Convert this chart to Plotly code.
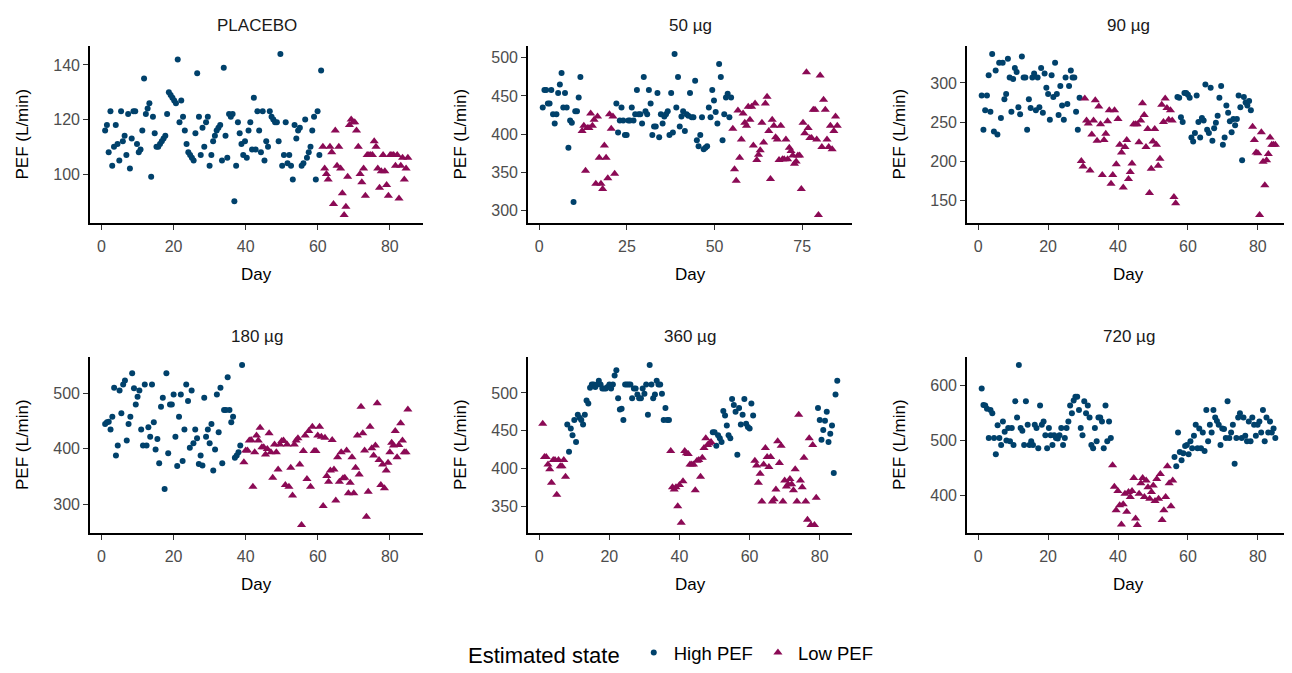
import numpy as np
import plotly.graph_objects as go

# ---------------- data (PEF, L/min, twice-daily readings in time order) ----------------
panel_titles = ["PLACEBO", "50 µg", "90 µg", "180 µg", "360 µg", "720 µg"]
state_names = ["High PEF", "Low PEF"]

placebo_high = [116, 118, 108, 123, 103, 110, 118, 111, 105, 123,
                112, 114, 107, 122, 102, 113, 123, 123, 111, 108,
                109, 116, 135, 122, 124, 126, 99, 121, 115, 110,
                110, 111, 112, 113, 114, 122, 130, 129, 128, 127,
                126, 142, 119, 127, 121, 116, 111, 108, 107, 106,
                105, 115, 137, 121, 107, 117, 110, 119, 121, 103,
                107, 112, 114, 116, 117, 118, 105, 139, 114, 106,
                122, 121, 122, 90, 103, 119, 115, 111, 107, 112,
                106, 116, 119, 109,
                128, 109, 123, 116, 108, 123, 105, 112, 110, 123,
                121, 120, 119, 119, 112, 144, 103, 107, 119, 104,
                107, 103, 98, 118, 113, 116, 117, 103, 104, 120,
                106, 108, 110, 116, 121, 98, 123, 107, 138]
placebo_low = [110, 102, 100, 98, 110, 108, 89, 116, 103, 110,
               102, 93, 85, 88, 99, 118, 120, 119, 119, 116,
               110, 100, 97, 102, 92, 107, 107, 107, 107, 112,
               110, 102, 95, 101, 107, 101, 96, 92, 107, 107,
               107, 103, 107, 91, 103, 106, 98, 102, 106]

d50_high_1 = [435, 458, 458, 440, 440, 458, 426, 414, 426, 454, 465, 480, 435, 454,
              435, 382, 418, 415, 311, 430, 430, 448, 475]
d50_low_1 = [404, 411, 352, 408, 408, 427, 411, 419, 335, 423, 369, 335, 328, 385,
             369, 342, 426, 407, 423, 348]
d50_high_2 = [440, 402, 418, 435, 418, 399, 399, 418, 418, 435, 418, 426, 458, 426,
              426, 414, 475, 430, 426, 458, 440, 399, 410, 410, 454, 396, 426, 414,
              423, 426, 430, 399, 454, 402, 505, 435, 475, 410, 423, 430, 404,
              426, 424, 454, 422, 422, 470, 392, 384, 399, 422, 380, 382, 384, 435,
              422, 458, 444, 429, 414, 492, 475, 392, 426, 448, 453, 422, 448]
d50_low_2 = [407, 354, 339, 431, 369, 393, 427, 415, 411, 436, 419, 436, 385, 440,
             366, 373, 379, 415, 389, 440, 449, 404, 341, 419, 411, 396, 393, 366,
             411, 367, 367, 393, 367, 382, 378, 372, 361, 364, 372, 372, 328, 415,
             401, 481, 408, 395, 395, 432, 432, 393, 294, 477, 383, 445, 432, 393,
             383, 411, 380, 404, 423, 411]

d90_high_1 = [284, 240, 265, 284, 310, 263, 337, 238, 316, 234, 326, 255, 326, 279,
              286, 331, 307, 263, 305, 319, 314, 269, 260, 334, 307, 307, 240, 279,
              268, 307, 312, 265, 307, 269, 319, 262, 312, 294, 286, 253, 310, 282,
              326, 286, 259, 296, 271, 253, 307, 273, 296, 316, 307, 307, 263, 240, 281]
d90_low_1 = [200, 193, 280, 252, 248, 188, 234, 252, 278, 226, 270, 247, 182, 227,
             235, 251, 265, 171, 182, 265, 196, 254, 221,
             211, 166, 218, 227, 177, 186, 197, 247, 247, 247, 224, 252, 274, 259,
             218, 241, 159, 190, 225, 241, 221, 194, 203, 272, 250, 280, 268, 253,
             265, 252, 154, 146]
d90_high_2 = [282, 281, 256, 250, 287, 287, 285, 281, 230, 225, 236, 284, 250, 230,
              255, 252, 298, 240, 236, 294, 226, 242, 249, 258, 281, 296, 221, 230,
              271, 262, 251, 237, 254, 246, 254, 284, 269, 201, 282, 275, 271, 277, 265]
d90_low_2 = [244, 227, 211, 210, 131, 237, 199, 169, 201, 209, 230, 221, 221, 221]

d180_high = [445, 448, 449, 435, 458, 510, 388, 406, 505, 464, 516, 523, 415, 445,
             458, 536, 509, 480, 494, 505, 435, 406, 516, 406, 439, 422, 516, 448,
             399, 418, 374, 476, 492, 328, 536, 392, 480, 480, 498, 422, 369, 458,
             498, 378, 435, 516, 486, 402, 505, 410, 435, 419, 373, 388, 370, 492,
             422, 435, 410, 445, 361, 399, 498, 430, 510, 374, 470, 470, 529, 470,
             448, 458, 384, 388, 394, 406, 551]
d180_low = [376, 397, 397, 415, 416, 332, 394, 424,
            415, 438, 403, 403, 390, 400, 428, 394, 348, 408, 394, 363, 408, 414,
            415, 335, 408, 332, 366, 316, 408, 415, 419, 372, 263, 396, 424, 346,
            432, 332, 440, 396, 396, 424, 440, 422, 297, 420, 351, 341, 361, 416,
            363, 307, 385, 341, 394, 347, 348, 397, 320, 339, 385, 320, 366, 424,
            354, 476, 428, 397, 278, 323, 440, 401, 388, 406, 482, 380, 335, 372,
            329, 361, 375, 394, 411, 406, 432, 385, 407, 446, 415, 394, 394, 471]

d360_low_1 = [459, 415, 415, 405, 399, 381, 411, 411, 365, 411, 403, 403, 411, 389]
d360_high_1 = [458, 422, 453, 444, 464, 435, 471, 467, 464, 458, 471, 490, 486, 507,
               511, 511, 508, 511, 516, 511, 506, 506, 506, 508, 511, 506, 511, 523,
               530, 493, 478, 479, 464, 511, 511, 511, 511, 493, 506, 506, 498, 493,
               493, 506, 499, 511, 471, 537, 511, 493, 498, 516, 511, 511, 499, 464,
               480, 464, 464]
d360_low_2 = [423, 375, 372, 375, 350, 378, 328, 383, 423, 420, 419, 405, 405, 405,
              371, 410, 411, 389, 414, 427, 440, 431, 433, 435]
d360_high_2 = [448, 448, 430, 444, 440, 435, 476, 470, 457, 444, 440, 492, 484, 475,
               418, 480, 458, 471, 492, 459, 455, 453, 486, 470]
d360_low_3 = [410, 404, 381, 393, 356, 405, 427, 415, 402, 415, 356, 359, 372, 436,
              407, 430, 356, 384, 376, 379, 386, 379, 371, 399, 356, 471, 384, 375,
              414, 356, 332, 440, 325, 431, 325, 361]
d360_high_3 = [480, 464, 438, 451, 463, 475, 435, 446, 457, 394, 498, 516]

d720_high_1 = [595, 565, 564, 558, 505, 556, 550, 505, 475, 528, 505, 492, 535, 516,
               500, 523, 499, 523, 492, 572, 542, 638, 523, 518, 492, 572, 529, 492,
               499, 492, 529, 523, 486, 564, 529, 535, 510, 486, 523, 510, 492, 510,
               505, 504, 510, 523, 492, 505, 523, 535, 564, 550, 573, 580, 580, 556,
               523, 510, 572, 550, 564, 542, 492, 486, 523, 499, 542, 542, 535, 486,
               564, 499, 535, 505]
d720_low = [455, 416, 373, 408, 382, 347, 384, 403, 370, 406, 397, 408, 432, 358,
            346, 403, 422, 432, 397, 427, 415, 394, 406, 418, 390, 430, 394, 439,
            355, 373, 397, 453, 422, 380, 427]
d720_high_2 = [470, 453, 515, 479, 464, 477, 490, 492, 475, 499, 486, 509, 529, 486,
               522, 486, 515, 481, 556, 499, 529, 515, 556, 542, 536, 529, 492, 522,
               521, 505, 572, 505, 515, 529, 458, 505, 542, 550, 505, 542, 509, 499,
               535, 499, 542, 529, 509, 529, 535, 515, 556, 499, 542, 515, 535, 515,
               522, 505]

x_tick_vals = [[0, 20, 40, 60, 80], [0, 25, 50, 75], [0, 20, 40, 60, 80],
               [0, 20, 40, 60, 80], [0, 20, 40, 60, 80], [0, 20, 40, 60, 80]]
y_tick_vals = [[100, 120, 140], [300, 350, 400, 450, 500], [150, 200, 250, 300],
               [300, 400, 500], [350, 400, 450, 500], [400, 500, 600]]
first_day, last_day = 1, 85

# ---------------- assembly ----------------
H_, L_ = state_names
panel_segments = [
    [(H_, placebo_high), (L_, placebo_low)],
    [(H_, d50_high_1), (L_, d50_low_1), (H_, d50_high_2), (L_, d50_low_2)],
    [(H_, d90_high_1), (L_, d90_low_1), (H_, d90_high_2), (L_, d90_low_2)],
    [(H_, d180_high), (L_, d180_low)],
    [(L_, d360_low_1), (H_, d360_high_1), (L_, d360_low_2), (H_, d360_high_2),
     (L_, d360_low_3), (H_, d360_high_3)],
    [(H_, d720_high_1), (L_, d720_low), (H_, d720_high_2)],
]

colors = {H_: "#00416B", L_: "#8B0A55"}
symbols = {H_: "circle", L_: "triangle-up"}
sizes = {H_: 6, L_: 8}

# page body has an 8px margin: lay out in window pixels, shifted by OFF
OFF = 8
W, Hh = 1292 - OFF, 673 - OFF
col_px = [(90, 423), (528, 852), (967, 1290)]
row_px = [(46, 223), (357, 533)]
FONT = "Liberation Sans, Arial, Helvetica, sans-serif"


def px_x(x):
    return (x - OFF) / W


def px_y(y):
    return 1 - (y - OFF) / Hh


fig = go.Figure()
annotations = []
layout_axes = {}
for i, segs in enumerate(panel_segments):
    r, c = divmod(i, 3)
    n = sum(len(v) for _, v in segs)
    day = np.linspace(first_day, last_day, n)
    xs = {H_: [], L_: []}
    ys = {H_: [], L_: []}
    k = 0
    for st, vals in segs:
        xs[st].extend(day[k:k + len(vals)].tolist())
        ys[st].extend(vals)
        k += len(vals)
    ax = "" if i == 0 else str(i + 1)
    for st in state_names:
        fig.add_trace(go.Scatter(
            x=xs[st], y=ys[st], mode="markers", name=st, legendgroup=st,
            showlegend=(i == 0),
            marker=dict(symbol=symbols[st], color=colors[st], size=sizes[st],
                        line=dict(width=0)),
            xaxis="x" + ax, yaxis="y" + ax,
            hovertemplate="Day %{x:.1f}<br>PEF %{y}<extra>" + st + "</extra>"))
    allv = [v for _, vals in segs for v in vals]
    lo, hi = min(allv), max(allv)
    ypad = 0.05 * (hi - lo)
    xpad = 0.05 * (last_day - first_day)
    x0, x1 = col_px[c]
    top, bot = row_px[r]
    common = dict(showline=True, linecolor="black", linewidth=1.7, ticks="outside",
                  ticklen=5, tickwidth=1.1, tickcolor="#333333", showgrid=False,
                  zeroline=False, mirror=False,
                  tickfont=dict(family=FONT, size=16, color="#4D4D4D"))
    layout_axes["xaxis" + ax] = dict(
        common, domain=[px_x(x0), px_x(x1)], anchor="y" + ax,
        range=[first_day - xpad, last_day + xpad], tickvals=x_tick_vals[i],
        ticklabelstandoff=3)
    layout_axes["yaxis" + ax] = dict(
        common, domain=[px_y(bot), px_y(top)], anchor="x" + ax,
        range=[lo - ypad, hi + ypad], tickvals=y_tick_vals[i])
    xc = px_x((x0 + x1) / 2)
    annotations.append(dict(text=panel_titles[i], x=xc, y=px_y(top - 21),
                            xanchor="center", yanchor="middle",
                            xref="paper", yref="paper", showarrow=False,
                            font=dict(family=FONT, size=17, color="#1A1A1A")))
    annotations.append(dict(text="Day", x=xc, y=px_y(bot + 51),
                            xanchor="center", yanchor="middle",
                            xref="paper", yref="paper", showarrow=False,
                            font=dict(family=FONT, size=17, color="black")))
    annotations.append(dict(text="PEF (L/min)", x=px_x(x0 - 68),
                            y=px_y((top + bot) / 2), textangle=-90,
                            xanchor="center", yanchor="middle",
                            xref="paper", yref="paper", showarrow=False,
                            font=dict(family=FONT, size=17, color="black")))

fig.update_layout(
    width=W, height=Hh, margin=dict(l=0, r=0, t=0, b=0),
    paper_bgcolor="white", plot_bgcolor="white",
    font=dict(family=FONT, size=17, color="black"),
    annotations=annotations,
    legend=dict(orientation="h", x=px_x(672), xanchor="center", y=0,
                yanchor="bottom", title=dict(text="Estimated state ", side="left"),
                font=dict(family=FONT, size=18.5, color="black"),
                itemsizing="trace"),
    **layout_axes,
)

fig.write_html("out.html")
